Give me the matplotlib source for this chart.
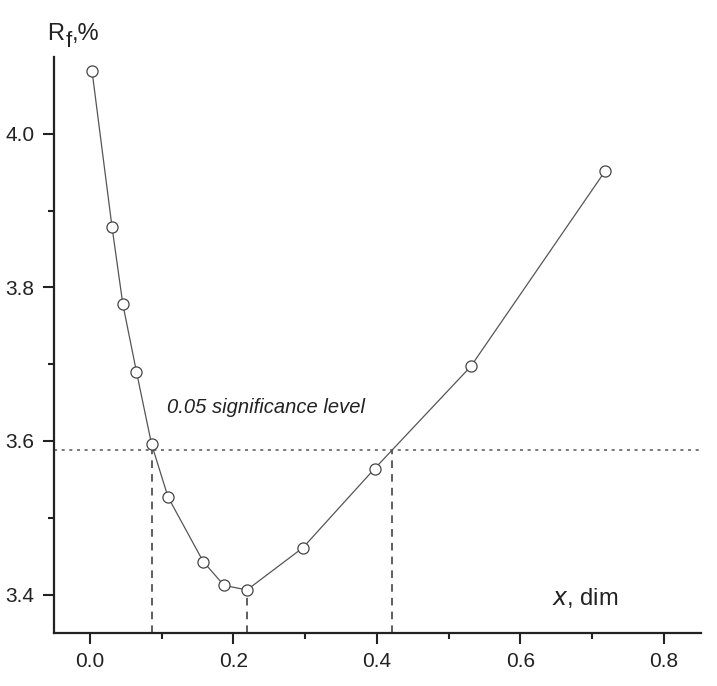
import numpy as np
import matplotlib.pyplot as plt

plt.rcParams['font.family'] = ['Liberation Sans', 'DejaVu Sans']

# Datos
x_vals = [0.003, 0.031, 0.046, 0.065, 0.086, 0.109, 0.158, 0.187, 0.219, 0.297, 0.397, 0.531, 0.718]
rf_vals = [4.082, 3.878, 3.778, 3.690, 3.596, 3.527, 3.443, 3.412, 3.406, 3.461, 3.564, 3.697, 3.951]

sig_level = 3.588           # nivel de significancia 0.05
x_cross = [0.086, 0.421]    # cruces con el nivel
x_min = 0.219               # minimo
rf_min = 3.406

x_ticks = [0.0, 0.2, 0.4, 0.6, 0.8]
y_ticks = [3.4, 3.6, 3.8, 4.0]

fig = plt.figure(figsize=(7.17, 6.86), dpi=100)
ax = fig.add_axes([0.0753, 0.0773, 0.9024, 0.8396])

ax.plot(x_vals, rf_vals, color='#555555', lw=0.9, marker='o', ms=8,
        mfc='white', mec='#444444', mew=0.9, zorder=3)

ax.axhline(sig_level, color='#555555', lw=1.1, ls=(0, (2, 3)), zorder=1)
for xc in x_cross:
    ax.plot([xc, xc], [3.35, sig_level], color='#333333', lw=1.1, ls=(0, (5, 4)), zorder=1)
ax.plot([x_min, x_min], [3.35, rf_min], color='#333333', lw=1.1, ls=(0, (5, 4)), zorder=1)

ax.text(0.107, 3.636, '0.05 significance level', fontsize=14.5, style='italic', color='#222222')
ax.text(0.644, 3.387, '$\\it{x}$, dim', fontsize=17, color='#222222')

# etiqueta del eje y: R con subindice f
fig.text(0.0656, 0.9417, 'R', fontsize=17, color='#222222', va='baseline')
fig.text(0.0915, 0.9315, 'f', fontsize=16, color='#222222', va='baseline')
fig.text(0.1005, 0.9417, ',%', fontsize=17, color='#222222', va='baseline')

ax.set_xlim(-0.05, 0.852)
ax.set_ylim(3.35, 4.10)
ax.set_xticks(x_ticks)
ax.set_yticks(y_ticks)
ax.set_xticks(np.arange(0.1, 0.8, 0.2), minor=True)
ax.set_yticks([3.5, 3.7, 3.9], minor=True)
ax.set_xticklabels(['0.0', '0.2', '0.4', '0.6', '0.8'])
ax.set_yticklabels(['3.4', '3.6', '3.8', '4.0'])

ax.spines['top'].set_visible(False)
ax.spines['right'].set_visible(False)
for s in ['left', 'bottom']:
    ax.spines[s].set_linewidth(1.6)
    ax.spines[s].set_color('#222222')

ax.tick_params(axis='both', which='major', direction='out', length=8, width=1.5,
               labelsize=15, colors='#222222', pad=6)
ax.tick_params(axis='both', which='minor', direction='out', length=4.5, width=1.5, colors='#222222')

plt.savefig('out.png', dpi=100)
